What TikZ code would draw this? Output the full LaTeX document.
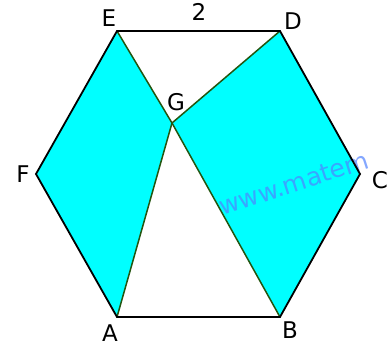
\documentclass[tikz,border=0pt]{standalone}
\usepackage{fontspec}
\setmainfont{DejaVu Sans}
\usepackage{tikz}

\definecolor{edgegreen}{RGB}{35,85,15}
\definecolor{wmblue}{RGB}{80,130,255}
\definecolor{piececyan}{RGB}{0,255,255}

\begin{document}
\begin{tikzpicture}[x=1pt,y=-1pt,font=\fontsize{23}{26}\selectfont,
  hexside/.style={black,line width=1.8pt,line join=miter},
  diag/.style={edgegreen,line width=1.5pt},
  piece/.style={fill=piececyan},
  lbl/.style={inner sep=0pt,anchor=center}]
\useasboundingbox (0,0) rectangle (392,351);
% vertices
\coordinate (A) at (117,317);
\coordinate (B) at (280,317);
\coordinate (C) at (360,174);
\coordinate (D) at (280,31);
\coordinate (E) at (117,31);
\coordinate (F) at (36,174);
\coordinate (G) at (172,123);
% cyan pieces
\fill[piece] (E) -- (F) -- (A) -- (G) -- cycle;
\fill[piece] (G) -- (D) -- (C) -- (B) -- cycle;
% watermark
\node[lbl,anchor=base west,rotate=18,text=wmblue,opacity=0.7,
  font=\fontsize{25}{28}\selectfont] (wm) at (222,216) {www.matem};
% inner lines
\draw[diag] (E) -- (G) -- (B);
\draw[diag] (D) -- (G) -- (A);
% hexagon
\draw[hexside] (A) -- (B) -- (C) -- (D) -- (E) -- (F) -- cycle;
% labels
\node[lbl] (lA) at (110,333) {A};
\node[lbl] (lB) at (290,330) {B};
\node[lbl] (lC) at (380,180) {C};
\node[lbl] (lD) at (293,21) {D};
\node[lbl] (lE) at (109,18) {E};
\node[lbl] (lF) at (23,174) {F};
\node[lbl] (lG) at (176,102) {G};
\node[lbl] (side) at (199,12) {2};
\end{tikzpicture}
\end{document}
